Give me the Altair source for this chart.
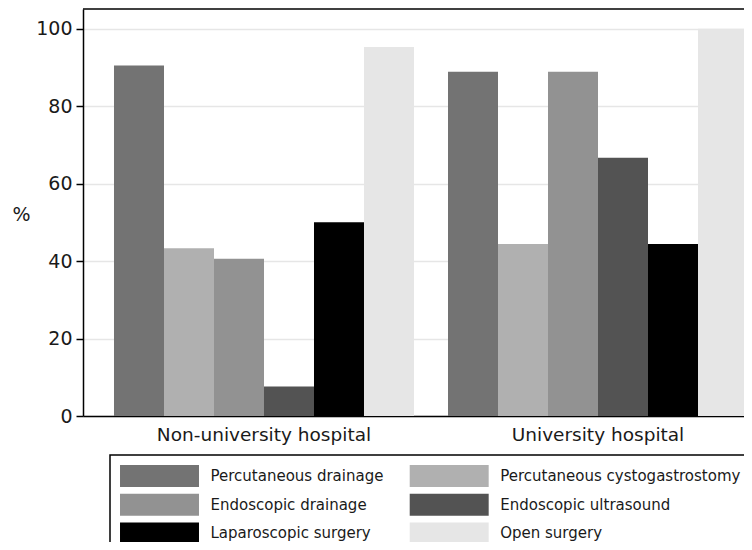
import altair as alt
import pandas as pd

groups = ["Non-university hospital", "University hospital"]
treatments = [
    "Percutaneous drainage",
    "Percutaneous cystogastrostomy",
    "Endoscopic drainage",
    "Endoscopic ultrasound",
    "Laparoscopic surgery",
    "Open surgery",
]
non_university = [90.5, 43.3, 40.6, 7.6, 50.0, 95.3]
university = [88.9, 44.4, 88.9, 66.7, 44.4, 100.0]
colors = ["#737373", "#b0b0b0", "#929292", "#535353", "#000000", "#e6e6e6"]
y_ticks = [0, 20, 40, 60, 80, 100]
y_top = 105.1

rows = []
for g, vals in zip(groups, [non_university, university]):
    for t, v in zip(treatments, vals):
        rows.append({"group": g, "treatment": t, "value": v})
df = pd.DataFrame(rows)

# legend fills column by column: reorder so that rows read like the reference
legend_order = [treatments[i] for i in (0, 2, 4, 1, 3, 5)]
legend_colors = [colors[i] for i in (0, 2, 4, 1, 3, 5)]

FONT = "DejaVu Sans"
TEXT = "#1a1a1a"
legend_symbol = "M-3.59,-1L3.59,-1L3.59,1L-3.59,1Z"

y_scale = alt.Scale(domain=[0, y_top], nice=False)

bars = (
    alt.Chart(df)
    .mark_bar(strokeWidth=0)
    .encode(
        x=alt.X(
            "group:N",
            sort=groups,
            title=None,
            scale=alt.Scale(range=[0, 696], paddingInner=0.1018, paddingOuter=0.0928),
            axis=alt.Axis(
                labelAngle=0,
                ticks=False,
                domainColor="black",
                domainWidth=1.5,
                labelFontSize=18.5,
                labelPadding=9,
                labelColor=TEXT,
                labelFont=FONT,
                labelLimit=400,
            ),
        ),
        xOffset=alt.XOffset(
            "treatment:N",
            sort=treatments,
            scale=alt.Scale(paddingInner=0, paddingOuter=0),
        ),
        y=alt.Y(
            "value:Q",
            title="%",
            scale=y_scale,
            axis=alt.Axis(
                values=y_ticks,
                grid=True,
                gridColor="#e6e6e6",
                gridWidth=1.5,
                domainColor="black",
                domainWidth=1.5,
                tickColor="black",
                tickWidth=1.5,
                tickSize=7,
                labelFontSize=19,
                labelPadding=4,
                labelColor=TEXT,
                labelFont=FONT,
                titleAngle=0,
                titleX=-62,
                titleY=205,
                titleAlign="center",
                titleBaseline="middle",
                titleFontSize=19,
                titleFontWeight="normal",
                titleFont=FONT,
                titleColor=TEXT,
            ),
        ),
        color=alt.Color(
            "treatment:N",
            scale=alt.Scale(domain=legend_order, range=legend_colors),
            legend=alt.Legend(
                title=None,
                orient="none",
                legendX=27,
                legendY=446,
                columns=2,
                symbolType=legend_symbol,
                symbolSize=484,
                symbolOffset=28.5,
                symbolStrokeWidth=0,
                symbolOpacity=1,
                labelOffset=40,
                labelFontSize=15,
                labelFont=FONT,
                labelColor=TEXT,
                labelLimit=500,
                rowPadding=6.7,
                columnPadding=25.7,
                padding=10,
                strokeColor="black",
                fillColor="white",
            ),
        ),
    )
)

top_border = (
    alt.Chart(pd.DataFrame({"top": [y_top]}))
    .mark_rule(color="black", strokeWidth=1.5)
    .encode(y=alt.Y("top:Q", scale=y_scale))
)

chart = (
    alt.layer(bars, top_border)
    .properties(
        width=661,
        height=407,
        autosize=alt.AutoSizeParams(type="none"),
        padding={"left": 75, "top": 1, "right": 0, "bottom": 126},
    )
    .configure_view(strokeWidth=0)
    .configure_legend(strokeWidth=1.5)
)

chart.save("out.html", embed_options={"renderer": "svg", "actions": False})
